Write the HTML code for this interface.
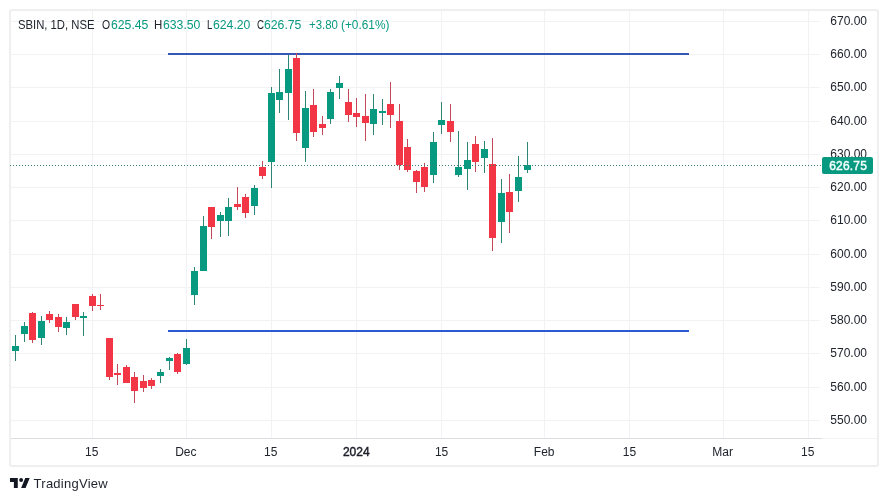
<!DOCTYPE html>
<html><head><meta charset="utf-8"><title>SBIN chart</title>
<style>
html,body{margin:0;padding:0;background:#fff;}
body{width:888px;height:501px;position:relative;overflow:hidden;font-family:"Liberation Sans",sans-serif;color:#20242d;}
#frame{position:absolute;left:9px;top:9px;width:870px;height:458px;border:2px solid #efeff0;border-radius:3px;box-sizing:border-box;}
svg{position:absolute;left:0;top:0;}
.lg{position:absolute;top:17px;font-size:12px;line-height:16px;white-space:nowrap;display:inline-block;transform-origin:0 50%;}
.lg.v{color:#089981;}
.pl{position:absolute;left:820.7px;width:56px;text-align:center;font-size:12px;line-height:16px;height:16px;}
.tl{position:absolute;top:444px;font-size:12px;line-height:16px;transform:translateX(-50%);white-space:nowrap;}
#cur{position:absolute;left:822px;top:157px;width:51px;height:17px;background:#089981;color:#f4fffd;font-weight:normal;-webkit-text-stroke:0.45px #f4fffd;font-size:12px;line-height:18.4px;text-align:center;border-radius:2px;letter-spacing:0.2px;text-indent:1.2px;}
#taxis{position:absolute;left:11px;top:438px;width:811px;height:1px;background:#dedee2;}
#logo{position:absolute;left:10px;top:478px;}
#brand{position:absolute;left:33.6px;top:475.8px;font-size:13px;line-height:16px;color:#1e222d;letter-spacing:0.25px;}
</style></head><body>
<div id="frame"></div>
<svg width="888" height="501" viewBox="0 0 888 501" shape-rendering="crispEdges">
<rect x="92" y="11" width="1" height="427" fill="#f2f2f4"/>
<rect x="186" y="11" width="1" height="427" fill="#f2f2f4"/>
<rect x="271" y="11" width="1" height="427" fill="#f2f2f4"/>
<rect x="356" y="11" width="1" height="427" fill="#f2f2f4"/>
<rect x="441" y="11" width="1" height="427" fill="#f2f2f4"/>
<rect x="544" y="11" width="1" height="427" fill="#f2f2f4"/>
<rect x="629" y="11" width="1" height="427" fill="#f2f2f4"/>
<rect x="723" y="11" width="1" height="427" fill="#f2f2f4"/>
<rect x="808" y="11" width="1" height="427" fill="#f2f2f4"/>
<rect x="11" y="21" width="809" height="1" fill="#f2f2f4"/>
<rect x="11" y="54" width="809" height="1" fill="#f2f2f4"/>
<rect x="11" y="87" width="809" height="1" fill="#f2f2f4"/>
<rect x="11" y="121" width="809" height="1" fill="#f2f2f4"/>
<rect x="11" y="154" width="809" height="1" fill="#f2f2f4"/>
<rect x="11" y="187" width="809" height="1" fill="#f2f2f4"/>
<rect x="11" y="220" width="809" height="1" fill="#f2f2f4"/>
<rect x="11" y="254" width="809" height="1" fill="#f2f2f4"/>
<rect x="11" y="287" width="809" height="1" fill="#f2f2f4"/>
<rect x="11" y="320" width="809" height="1" fill="#f2f2f4"/>
<rect x="11" y="353" width="809" height="1" fill="#f2f2f4"/>
<rect x="11" y="387" width="809" height="1" fill="#f2f2f4"/>
<rect x="11" y="420" width="809" height="1" fill="#f2f2f4"/>
<rect x="167.5" y="53" width="521.5" height="2" fill="#3558b2"/>
<rect x="167.5" y="330" width="521.5" height="2" fill="#2c5ad2"/>
<rect x="15" y="335" width="1" height="26" fill="#2d8576"/>
<rect x="12" y="346" width="7" height="5" fill="#089981"/>
<rect x="24" y="322" width="1" height="20" fill="#2d8576"/>
<rect x="21" y="326" width="7" height="8" fill="#089981"/>
<rect x="32" y="312" width="1" height="31" fill="#c2485a"/>
<rect x="29" y="313" width="7" height="27" fill="#f23645"/>
<rect x="41" y="316" width="1" height="29" fill="#2d8576"/>
<rect x="38" y="321" width="7" height="17" fill="#089981"/>
<rect x="49" y="311" width="1" height="12" fill="#c2485a"/>
<rect x="46" y="314" width="7" height="6" fill="#f23645"/>
<rect x="58" y="314" width="1" height="18" fill="#c2485a"/>
<rect x="55" y="317" width="7" height="10" fill="#f23645"/>
<rect x="66" y="317" width="1" height="18" fill="#2d8576"/>
<rect x="63" y="322" width="7" height="6" fill="#089981"/>
<rect x="75" y="304" width="1" height="16" fill="#c2485a"/>
<rect x="72" y="304" width="7" height="13" fill="#f23645"/>
<rect x="83" y="312" width="1" height="24" fill="#2d8576"/>
<rect x="80" y="316" width="7" height="2" fill="#089981"/>
<rect x="92" y="294" width="1" height="17" fill="#c2485a"/>
<rect x="89" y="296" width="7" height="10" fill="#f23645"/>
<rect x="100" y="294" width="1" height="16" fill="#c2485a"/>
<rect x="97" y="305" width="7" height="1" fill="#f23645"/>
<rect x="109" y="338" width="1" height="42" fill="#c2485a"/>
<rect x="106" y="338" width="7" height="39" fill="#f23645"/>
<rect x="117" y="364" width="1" height="21" fill="#c2485a"/>
<rect x="114" y="373" width="7" height="2" fill="#f23645"/>
<rect x="126" y="365" width="1" height="18" fill="#c2485a"/>
<rect x="123" y="367" width="7" height="16" fill="#f23645"/>
<rect x="134" y="372" width="1" height="31" fill="#c2485a"/>
<rect x="131" y="377" width="7" height="14" fill="#f23645"/>
<rect x="143" y="375" width="1" height="17" fill="#c2485a"/>
<rect x="140" y="381" width="7" height="7" fill="#f23645"/>
<rect x="151" y="378" width="1" height="11" fill="#c2485a"/>
<rect x="148" y="380" width="7" height="6" fill="#f23645"/>
<rect x="160" y="369" width="1" height="14" fill="#2d8576"/>
<rect x="157" y="372" width="7" height="4" fill="#089981"/>
<rect x="169" y="357" width="1" height="13" fill="#2d8576"/>
<rect x="166" y="358" width="7" height="3" fill="#089981"/>
<rect x="177" y="353" width="1" height="21" fill="#c2485a"/>
<rect x="174" y="354" width="7" height="18" fill="#f23645"/>
<rect x="186" y="339" width="1" height="26" fill="#2d8576"/>
<rect x="183" y="348" width="7" height="16" fill="#089981"/>
<rect x="194" y="267" width="1" height="38" fill="#2d8576"/>
<rect x="191" y="271" width="7" height="24" fill="#089981"/>
<rect x="203" y="216" width="1" height="55" fill="#2d8576"/>
<rect x="200" y="226" width="7" height="45" fill="#089981"/>
<rect x="211" y="207" width="1" height="32" fill="#c2485a"/>
<rect x="208" y="207" width="7" height="20" fill="#f23645"/>
<rect x="220" y="212" width="1" height="25" fill="#2d8576"/>
<rect x="217" y="215" width="7" height="6" fill="#089981"/>
<rect x="228" y="198" width="1" height="38" fill="#2d8576"/>
<rect x="225" y="207" width="7" height="14" fill="#089981"/>
<rect x="237" y="187" width="1" height="23" fill="#c2485a"/>
<rect x="234" y="204" width="7" height="3" fill="#f23645"/>
<rect x="245" y="194" width="1" height="24" fill="#c2485a"/>
<rect x="242" y="197" width="7" height="16" fill="#f23645"/>
<rect x="254" y="185" width="1" height="30" fill="#2d8576"/>
<rect x="251" y="188" width="7" height="18" fill="#089981"/>
<rect x="262" y="161" width="1" height="18" fill="#c2485a"/>
<rect x="259" y="167" width="7" height="9" fill="#f23645"/>
<rect x="271" y="87" width="1" height="101" fill="#2d8576"/>
<rect x="268" y="93" width="7" height="69" fill="#089981"/>
<rect x="279" y="69" width="1" height="44" fill="#2d8576"/>
<rect x="276" y="92" width="7" height="8" fill="#089981"/>
<rect x="288" y="55" width="1" height="65" fill="#2d8576"/>
<rect x="285" y="69" width="7" height="24" fill="#089981"/>
<rect x="296" y="53" width="1" height="88" fill="#c2485a"/>
<rect x="293" y="58" width="7" height="75" fill="#f23645"/>
<rect x="305" y="91" width="1" height="71" fill="#2d8576"/>
<rect x="302" y="108" width="7" height="40" fill="#089981"/>
<rect x="313" y="89" width="1" height="48" fill="#c2485a"/>
<rect x="310" y="105" width="7" height="27" fill="#f23645"/>
<rect x="322" y="116" width="1" height="19" fill="#c2485a"/>
<rect x="319" y="124" width="7" height="4" fill="#f23645"/>
<rect x="330" y="89" width="1" height="35" fill="#2d8576"/>
<rect x="327" y="92" width="7" height="27" fill="#089981"/>
<rect x="339" y="76" width="1" height="23" fill="#2d8576"/>
<rect x="336" y="83" width="7" height="5" fill="#089981"/>
<rect x="348" y="89" width="1" height="33" fill="#c2485a"/>
<rect x="345" y="102" width="7" height="13" fill="#f23645"/>
<rect x="356" y="98" width="1" height="29" fill="#c2485a"/>
<rect x="353" y="113" width="7" height="4" fill="#f23645"/>
<rect x="365" y="94" width="1" height="47" fill="#c2485a"/>
<rect x="362" y="116" width="7" height="7" fill="#f23645"/>
<rect x="373" y="94" width="1" height="41" fill="#2d8576"/>
<rect x="370" y="109" width="7" height="15" fill="#089981"/>
<rect x="382" y="99" width="1" height="26" fill="#2d8576"/>
<rect x="379" y="111" width="7" height="2" fill="#089981"/>
<rect x="390" y="82" width="1" height="46" fill="#c2485a"/>
<rect x="387" y="104" width="7" height="11" fill="#f23645"/>
<rect x="399" y="104" width="1" height="66" fill="#c2485a"/>
<rect x="396" y="121" width="7" height="44" fill="#f23645"/>
<rect x="407" y="139" width="1" height="33" fill="#c2485a"/>
<rect x="404" y="147" width="7" height="23" fill="#f23645"/>
<rect x="416" y="170" width="1" height="23" fill="#c2485a"/>
<rect x="413" y="171" width="7" height="11" fill="#f23645"/>
<rect x="424" y="163" width="1" height="29" fill="#c2485a"/>
<rect x="421" y="167" width="7" height="20" fill="#f23645"/>
<rect x="433" y="132" width="1" height="51" fill="#2d8576"/>
<rect x="430" y="142" width="7" height="33" fill="#089981"/>
<rect x="441" y="102" width="1" height="32" fill="#2d8576"/>
<rect x="438" y="120" width="7" height="5" fill="#089981"/>
<rect x="450" y="104" width="1" height="38" fill="#c2485a"/>
<rect x="447" y="121" width="7" height="11" fill="#f23645"/>
<rect x="458" y="131" width="1" height="46" fill="#2d8576"/>
<rect x="455" y="167" width="7" height="8" fill="#089981"/>
<rect x="467" y="142" width="1" height="48" fill="#2d8576"/>
<rect x="464" y="160" width="7" height="9" fill="#089981"/>
<rect x="475" y="136" width="1" height="36" fill="#c2485a"/>
<rect x="472" y="144" width="7" height="18" fill="#f23645"/>
<rect x="484" y="141" width="1" height="32" fill="#2d8576"/>
<rect x="481" y="149" width="7" height="9" fill="#089981"/>
<rect x="492" y="138" width="1" height="113" fill="#c2485a"/>
<rect x="489" y="164" width="7" height="74" fill="#f23645"/>
<rect x="501" y="179" width="1" height="64" fill="#2d8576"/>
<rect x="498" y="193" width="7" height="29" fill="#089981"/>
<rect x="509" y="174" width="1" height="59" fill="#c2485a"/>
<rect x="506" y="192" width="7" height="20" fill="#f23645"/>
<rect x="518" y="156" width="1" height="46" fill="#2d8576"/>
<rect x="515" y="177" width="7" height="14" fill="#089981"/>
<rect x="527" y="142" width="1" height="31" fill="#2d8576"/>
<rect x="524" y="165" width="7" height="5" fill="#089981"/>
<rect x="10" y="165" width="1" height="1" fill="#3c8073"/>
<rect x="13" y="165" width="1" height="1" fill="#3c8073"/>
<rect x="16" y="165" width="1" height="1" fill="#3c8073"/>
<rect x="19" y="165" width="1" height="1" fill="#3c8073"/>
<rect x="22" y="165" width="1" height="1" fill="#3c8073"/>
<rect x="25" y="165" width="1" height="1" fill="#3c8073"/>
<rect x="28" y="165" width="1" height="1" fill="#3c8073"/>
<rect x="31" y="165" width="1" height="1" fill="#3c8073"/>
<rect x="34" y="165" width="1" height="1" fill="#3c8073"/>
<rect x="37" y="165" width="1" height="1" fill="#3c8073"/>
<rect x="40" y="165" width="1" height="1" fill="#3c8073"/>
<rect x="43" y="165" width="1" height="1" fill="#3c8073"/>
<rect x="46" y="165" width="1" height="1" fill="#3c8073"/>
<rect x="49" y="165" width="1" height="1" fill="#3c8073"/>
<rect x="52" y="165" width="1" height="1" fill="#3c8073"/>
<rect x="55" y="165" width="1" height="1" fill="#3c8073"/>
<rect x="58" y="165" width="1" height="1" fill="#3c8073"/>
<rect x="61" y="165" width="1" height="1" fill="#3c8073"/>
<rect x="64" y="165" width="1" height="1" fill="#3c8073"/>
<rect x="67" y="165" width="1" height="1" fill="#3c8073"/>
<rect x="70" y="165" width="1" height="1" fill="#3c8073"/>
<rect x="73" y="165" width="1" height="1" fill="#3c8073"/>
<rect x="76" y="165" width="1" height="1" fill="#3c8073"/>
<rect x="79" y="165" width="1" height="1" fill="#3c8073"/>
<rect x="82" y="165" width="1" height="1" fill="#3c8073"/>
<rect x="85" y="165" width="1" height="1" fill="#3c8073"/>
<rect x="88" y="165" width="1" height="1" fill="#3c8073"/>
<rect x="91" y="165" width="1" height="1" fill="#3c8073"/>
<rect x="94" y="165" width="1" height="1" fill="#3c8073"/>
<rect x="97" y="165" width="1" height="1" fill="#3c8073"/>
<rect x="100" y="165" width="1" height="1" fill="#3c8073"/>
<rect x="103" y="165" width="1" height="1" fill="#3c8073"/>
<rect x="106" y="165" width="1" height="1" fill="#3c8073"/>
<rect x="109" y="165" width="1" height="1" fill="#3c8073"/>
<rect x="112" y="165" width="1" height="1" fill="#3c8073"/>
<rect x="115" y="165" width="1" height="1" fill="#3c8073"/>
<rect x="118" y="165" width="1" height="1" fill="#3c8073"/>
<rect x="121" y="165" width="1" height="1" fill="#3c8073"/>
<rect x="124" y="165" width="1" height="1" fill="#3c8073"/>
<rect x="127" y="165" width="1" height="1" fill="#3c8073"/>
<rect x="130" y="165" width="1" height="1" fill="#3c8073"/>
<rect x="133" y="165" width="1" height="1" fill="#3c8073"/>
<rect x="136" y="165" width="1" height="1" fill="#3c8073"/>
<rect x="139" y="165" width="1" height="1" fill="#3c8073"/>
<rect x="142" y="165" width="1" height="1" fill="#3c8073"/>
<rect x="145" y="165" width="1" height="1" fill="#3c8073"/>
<rect x="148" y="165" width="1" height="1" fill="#3c8073"/>
<rect x="151" y="165" width="1" height="1" fill="#3c8073"/>
<rect x="154" y="165" width="1" height="1" fill="#3c8073"/>
<rect x="157" y="165" width="1" height="1" fill="#3c8073"/>
<rect x="160" y="165" width="1" height="1" fill="#3c8073"/>
<rect x="163" y="165" width="1" height="1" fill="#3c8073"/>
<rect x="166" y="165" width="1" height="1" fill="#3c8073"/>
<rect x="169" y="165" width="1" height="1" fill="#3c8073"/>
<rect x="172" y="165" width="1" height="1" fill="#3c8073"/>
<rect x="175" y="165" width="1" height="1" fill="#3c8073"/>
<rect x="178" y="165" width="1" height="1" fill="#3c8073"/>
<rect x="181" y="165" width="1" height="1" fill="#3c8073"/>
<rect x="184" y="165" width="1" height="1" fill="#3c8073"/>
<rect x="187" y="165" width="1" height="1" fill="#3c8073"/>
<rect x="190" y="165" width="1" height="1" fill="#3c8073"/>
<rect x="193" y="165" width="1" height="1" fill="#3c8073"/>
<rect x="196" y="165" width="1" height="1" fill="#3c8073"/>
<rect x="199" y="165" width="1" height="1" fill="#3c8073"/>
<rect x="202" y="165" width="1" height="1" fill="#3c8073"/>
<rect x="205" y="165" width="1" height="1" fill="#3c8073"/>
<rect x="208" y="165" width="1" height="1" fill="#3c8073"/>
<rect x="211" y="165" width="1" height="1" fill="#3c8073"/>
<rect x="214" y="165" width="1" height="1" fill="#3c8073"/>
<rect x="217" y="165" width="1" height="1" fill="#3c8073"/>
<rect x="220" y="165" width="1" height="1" fill="#3c8073"/>
<rect x="223" y="165" width="1" height="1" fill="#3c8073"/>
<rect x="226" y="165" width="1" height="1" fill="#3c8073"/>
<rect x="229" y="165" width="1" height="1" fill="#3c8073"/>
<rect x="232" y="165" width="1" height="1" fill="#3c8073"/>
<rect x="235" y="165" width="1" height="1" fill="#3c8073"/>
<rect x="238" y="165" width="1" height="1" fill="#3c8073"/>
<rect x="241" y="165" width="1" height="1" fill="#3c8073"/>
<rect x="244" y="165" width="1" height="1" fill="#3c8073"/>
<rect x="247" y="165" width="1" height="1" fill="#3c8073"/>
<rect x="250" y="165" width="1" height="1" fill="#3c8073"/>
<rect x="253" y="165" width="1" height="1" fill="#3c8073"/>
<rect x="256" y="165" width="1" height="1" fill="#3c8073"/>
<rect x="259" y="165" width="1" height="1" fill="#3c8073"/>
<rect x="262" y="165" width="1" height="1" fill="#3c8073"/>
<rect x="265" y="165" width="1" height="1" fill="#3c8073"/>
<rect x="268" y="165" width="1" height="1" fill="#3c8073"/>
<rect x="271" y="165" width="1" height="1" fill="#3c8073"/>
<rect x="274" y="165" width="1" height="1" fill="#3c8073"/>
<rect x="277" y="165" width="1" height="1" fill="#3c8073"/>
<rect x="280" y="165" width="1" height="1" fill="#3c8073"/>
<rect x="283" y="165" width="1" height="1" fill="#3c8073"/>
<rect x="286" y="165" width="1" height="1" fill="#3c8073"/>
<rect x="289" y="165" width="1" height="1" fill="#3c8073"/>
<rect x="292" y="165" width="1" height="1" fill="#3c8073"/>
<rect x="295" y="165" width="1" height="1" fill="#3c8073"/>
<rect x="298" y="165" width="1" height="1" fill="#3c8073"/>
<rect x="301" y="165" width="1" height="1" fill="#3c8073"/>
<rect x="304" y="165" width="1" height="1" fill="#3c8073"/>
<rect x="307" y="165" width="1" height="1" fill="#3c8073"/>
<rect x="310" y="165" width="1" height="1" fill="#3c8073"/>
<rect x="313" y="165" width="1" height="1" fill="#3c8073"/>
<rect x="316" y="165" width="1" height="1" fill="#3c8073"/>
<rect x="319" y="165" width="1" height="1" fill="#3c8073"/>
<rect x="322" y="165" width="1" height="1" fill="#3c8073"/>
<rect x="325" y="165" width="1" height="1" fill="#3c8073"/>
<rect x="328" y="165" width="1" height="1" fill="#3c8073"/>
<rect x="331" y="165" width="1" height="1" fill="#3c8073"/>
<rect x="334" y="165" width="1" height="1" fill="#3c8073"/>
<rect x="337" y="165" width="1" height="1" fill="#3c8073"/>
<rect x="340" y="165" width="1" height="1" fill="#3c8073"/>
<rect x="343" y="165" width="1" height="1" fill="#3c8073"/>
<rect x="346" y="165" width="1" height="1" fill="#3c8073"/>
<rect x="349" y="165" width="1" height="1" fill="#3c8073"/>
<rect x="352" y="165" width="1" height="1" fill="#3c8073"/>
<rect x="355" y="165" width="1" height="1" fill="#3c8073"/>
<rect x="358" y="165" width="1" height="1" fill="#3c8073"/>
<rect x="361" y="165" width="1" height="1" fill="#3c8073"/>
<rect x="364" y="165" width="1" height="1" fill="#3c8073"/>
<rect x="367" y="165" width="1" height="1" fill="#3c8073"/>
<rect x="370" y="165" width="1" height="1" fill="#3c8073"/>
<rect x="373" y="165" width="1" height="1" fill="#3c8073"/>
<rect x="376" y="165" width="1" height="1" fill="#3c8073"/>
<rect x="379" y="165" width="1" height="1" fill="#3c8073"/>
<rect x="382" y="165" width="1" height="1" fill="#3c8073"/>
<rect x="385" y="165" width="1" height="1" fill="#3c8073"/>
<rect x="388" y="165" width="1" height="1" fill="#3c8073"/>
<rect x="391" y="165" width="1" height="1" fill="#3c8073"/>
<rect x="394" y="165" width="1" height="1" fill="#3c8073"/>
<rect x="397" y="165" width="1" height="1" fill="#3c8073"/>
<rect x="400" y="165" width="1" height="1" fill="#3c8073"/>
<rect x="403" y="165" width="1" height="1" fill="#3c8073"/>
<rect x="406" y="165" width="1" height="1" fill="#3c8073"/>
<rect x="409" y="165" width="1" height="1" fill="#3c8073"/>
<rect x="412" y="165" width="1" height="1" fill="#3c8073"/>
<rect x="415" y="165" width="1" height="1" fill="#3c8073"/>
<rect x="418" y="165" width="1" height="1" fill="#3c8073"/>
<rect x="421" y="165" width="1" height="1" fill="#3c8073"/>
<rect x="424" y="165" width="1" height="1" fill="#3c8073"/>
<rect x="427" y="165" width="1" height="1" fill="#3c8073"/>
<rect x="430" y="165" width="1" height="1" fill="#3c8073"/>
<rect x="433" y="165" width="1" height="1" fill="#3c8073"/>
<rect x="436" y="165" width="1" height="1" fill="#3c8073"/>
<rect x="439" y="165" width="1" height="1" fill="#3c8073"/>
<rect x="442" y="165" width="1" height="1" fill="#3c8073"/>
<rect x="445" y="165" width="1" height="1" fill="#3c8073"/>
<rect x="448" y="165" width="1" height="1" fill="#3c8073"/>
<rect x="451" y="165" width="1" height="1" fill="#3c8073"/>
<rect x="454" y="165" width="1" height="1" fill="#3c8073"/>
<rect x="457" y="165" width="1" height="1" fill="#3c8073"/>
<rect x="460" y="165" width="1" height="1" fill="#3c8073"/>
<rect x="463" y="165" width="1" height="1" fill="#3c8073"/>
<rect x="466" y="165" width="1" height="1" fill="#3c8073"/>
<rect x="469" y="165" width="1" height="1" fill="#3c8073"/>
<rect x="472" y="165" width="1" height="1" fill="#3c8073"/>
<rect x="475" y="165" width="1" height="1" fill="#3c8073"/>
<rect x="478" y="165" width="1" height="1" fill="#3c8073"/>
<rect x="481" y="165" width="1" height="1" fill="#3c8073"/>
<rect x="484" y="165" width="1" height="1" fill="#3c8073"/>
<rect x="487" y="165" width="1" height="1" fill="#3c8073"/>
<rect x="490" y="165" width="1" height="1" fill="#3c8073"/>
<rect x="493" y="165" width="1" height="1" fill="#3c8073"/>
<rect x="496" y="165" width="1" height="1" fill="#3c8073"/>
<rect x="499" y="165" width="1" height="1" fill="#3c8073"/>
<rect x="502" y="165" width="1" height="1" fill="#3c8073"/>
<rect x="505" y="165" width="1" height="1" fill="#3c8073"/>
<rect x="508" y="165" width="1" height="1" fill="#3c8073"/>
<rect x="511" y="165" width="1" height="1" fill="#3c8073"/>
<rect x="514" y="165" width="1" height="1" fill="#3c8073"/>
<rect x="517" y="165" width="1" height="1" fill="#3c8073"/>
<rect x="520" y="165" width="1" height="1" fill="#3c8073"/>
<rect x="523" y="165" width="1" height="1" fill="#3c8073"/>
<rect x="526" y="165" width="1" height="1" fill="#3c8073"/>
<rect x="529" y="165" width="1" height="1" fill="#3c8073"/>
<rect x="532" y="165" width="1" height="1" fill="#3c8073"/>
<rect x="535" y="165" width="1" height="1" fill="#3c8073"/>
<rect x="538" y="165" width="1" height="1" fill="#3c8073"/>
<rect x="541" y="165" width="1" height="1" fill="#3c8073"/>
<rect x="544" y="165" width="1" height="1" fill="#3c8073"/>
<rect x="547" y="165" width="1" height="1" fill="#3c8073"/>
<rect x="550" y="165" width="1" height="1" fill="#3c8073"/>
<rect x="553" y="165" width="1" height="1" fill="#3c8073"/>
<rect x="556" y="165" width="1" height="1" fill="#3c8073"/>
<rect x="559" y="165" width="1" height="1" fill="#3c8073"/>
<rect x="562" y="165" width="1" height="1" fill="#3c8073"/>
<rect x="565" y="165" width="1" height="1" fill="#3c8073"/>
<rect x="568" y="165" width="1" height="1" fill="#3c8073"/>
<rect x="571" y="165" width="1" height="1" fill="#3c8073"/>
<rect x="574" y="165" width="1" height="1" fill="#3c8073"/>
<rect x="577" y="165" width="1" height="1" fill="#3c8073"/>
<rect x="580" y="165" width="1" height="1" fill="#3c8073"/>
<rect x="583" y="165" width="1" height="1" fill="#3c8073"/>
<rect x="586" y="165" width="1" height="1" fill="#3c8073"/>
<rect x="589" y="165" width="1" height="1" fill="#3c8073"/>
<rect x="592" y="165" width="1" height="1" fill="#3c8073"/>
<rect x="595" y="165" width="1" height="1" fill="#3c8073"/>
<rect x="598" y="165" width="1" height="1" fill="#3c8073"/>
<rect x="601" y="165" width="1" height="1" fill="#3c8073"/>
<rect x="604" y="165" width="1" height="1" fill="#3c8073"/>
<rect x="607" y="165" width="1" height="1" fill="#3c8073"/>
<rect x="610" y="165" width="1" height="1" fill="#3c8073"/>
<rect x="613" y="165" width="1" height="1" fill="#3c8073"/>
<rect x="616" y="165" width="1" height="1" fill="#3c8073"/>
<rect x="619" y="165" width="1" height="1" fill="#3c8073"/>
<rect x="622" y="165" width="1" height="1" fill="#3c8073"/>
<rect x="625" y="165" width="1" height="1" fill="#3c8073"/>
<rect x="628" y="165" width="1" height="1" fill="#3c8073"/>
<rect x="631" y="165" width="1" height="1" fill="#3c8073"/>
<rect x="634" y="165" width="1" height="1" fill="#3c8073"/>
<rect x="637" y="165" width="1" height="1" fill="#3c8073"/>
<rect x="640" y="165" width="1" height="1" fill="#3c8073"/>
<rect x="643" y="165" width="1" height="1" fill="#3c8073"/>
<rect x="646" y="165" width="1" height="1" fill="#3c8073"/>
<rect x="649" y="165" width="1" height="1" fill="#3c8073"/>
<rect x="652" y="165" width="1" height="1" fill="#3c8073"/>
<rect x="655" y="165" width="1" height="1" fill="#3c8073"/>
<rect x="658" y="165" width="1" height="1" fill="#3c8073"/>
<rect x="661" y="165" width="1" height="1" fill="#3c8073"/>
<rect x="664" y="165" width="1" height="1" fill="#3c8073"/>
<rect x="667" y="165" width="1" height="1" fill="#3c8073"/>
<rect x="670" y="165" width="1" height="1" fill="#3c8073"/>
<rect x="673" y="165" width="1" height="1" fill="#3c8073"/>
<rect x="676" y="165" width="1" height="1" fill="#3c8073"/>
<rect x="679" y="165" width="1" height="1" fill="#3c8073"/>
<rect x="682" y="165" width="1" height="1" fill="#3c8073"/>
<rect x="685" y="165" width="1" height="1" fill="#3c8073"/>
<rect x="688" y="165" width="1" height="1" fill="#3c8073"/>
<rect x="691" y="165" width="1" height="1" fill="#3c8073"/>
<rect x="694" y="165" width="1" height="1" fill="#3c8073"/>
<rect x="697" y="165" width="1" height="1" fill="#3c8073"/>
<rect x="700" y="165" width="1" height="1" fill="#3c8073"/>
<rect x="703" y="165" width="1" height="1" fill="#3c8073"/>
<rect x="706" y="165" width="1" height="1" fill="#3c8073"/>
<rect x="709" y="165" width="1" height="1" fill="#3c8073"/>
<rect x="712" y="165" width="1" height="1" fill="#3c8073"/>
<rect x="715" y="165" width="1" height="1" fill="#3c8073"/>
<rect x="718" y="165" width="1" height="1" fill="#3c8073"/>
<rect x="721" y="165" width="1" height="1" fill="#3c8073"/>
<rect x="724" y="165" width="1" height="1" fill="#3c8073"/>
<rect x="727" y="165" width="1" height="1" fill="#3c8073"/>
<rect x="730" y="165" width="1" height="1" fill="#3c8073"/>
<rect x="733" y="165" width="1" height="1" fill="#3c8073"/>
<rect x="736" y="165" width="1" height="1" fill="#3c8073"/>
<rect x="739" y="165" width="1" height="1" fill="#3c8073"/>
<rect x="742" y="165" width="1" height="1" fill="#3c8073"/>
<rect x="745" y="165" width="1" height="1" fill="#3c8073"/>
<rect x="748" y="165" width="1" height="1" fill="#3c8073"/>
<rect x="751" y="165" width="1" height="1" fill="#3c8073"/>
<rect x="754" y="165" width="1" height="1" fill="#3c8073"/>
<rect x="757" y="165" width="1" height="1" fill="#3c8073"/>
<rect x="760" y="165" width="1" height="1" fill="#3c8073"/>
<rect x="763" y="165" width="1" height="1" fill="#3c8073"/>
<rect x="766" y="165" width="1" height="1" fill="#3c8073"/>
<rect x="769" y="165" width="1" height="1" fill="#3c8073"/>
<rect x="772" y="165" width="1" height="1" fill="#3c8073"/>
<rect x="775" y="165" width="1" height="1" fill="#3c8073"/>
<rect x="778" y="165" width="1" height="1" fill="#3c8073"/>
<rect x="781" y="165" width="1" height="1" fill="#3c8073"/>
<rect x="784" y="165" width="1" height="1" fill="#3c8073"/>
<rect x="787" y="165" width="1" height="1" fill="#3c8073"/>
<rect x="790" y="165" width="1" height="1" fill="#3c8073"/>
<rect x="793" y="165" width="1" height="1" fill="#3c8073"/>
<rect x="796" y="165" width="1" height="1" fill="#3c8073"/>
<rect x="799" y="165" width="1" height="1" fill="#3c8073"/>
<rect x="802" y="165" width="1" height="1" fill="#3c8073"/>
<rect x="805" y="165" width="1" height="1" fill="#3c8073"/>
<rect x="808" y="165" width="1" height="1" fill="#3c8073"/>
<rect x="811" y="165" width="1" height="1" fill="#3c8073"/>
<rect x="814" y="165" width="1" height="1" fill="#3c8073"/>
<rect x="817" y="165" width="1" height="1" fill="#3c8073"/>
<rect x="820" y="165" width="1" height="1" fill="#3c8073"/>
</svg>
<div id="taxis"></div><div style="position:absolute;left:822px;top:438px;width:55px;height:1px;background:#f4f4f6"></div>
<span class="lg" style="left:17.66px;transform:scaleX(0.940)">SBIN, 1D, NSE</span>
<span class="lg" style="left:101.90px;transform:scaleX(0.867)">O</span>
<span class="lg v" style="left:110.60px;transform:scaleX(1.019)">625.45</span>
<span class="lg" style="left:154.34px;transform:scaleX(0.957)">H</span>
<span class="lg v" style="left:163.20px;transform:scaleX(1.019)">633.50</span>
<span class="lg" style="left:207.10px;transform:scaleX(0.800)">L</span>
<span class="lg v" style="left:213.10px;transform:scaleX(1.019)">624.20</span>
<span class="lg" style="left:257.40px;transform:scaleX(0.812)">C</span>
<span class="lg v" style="left:264.20px;transform:scaleX(1.019)">626.75</span>
<span class="lg v" style="left:308.80px;transform:scaleX(0.953)">+3.80</span>
<span class="lg v" style="left:341.31px;transform:scaleX(0.987)">(+0.61%)</span>

<div class="pl" style="top:12.50px">670.00</div>
<div class="pl" style="top:46.20px">660.00</div>
<div class="pl" style="top:79.20px">650.00</div>
<div class="pl" style="top:113.20px">640.00</div>
<div class="pl" style="top:146.20px">630.00</div>
<div class="pl" style="top:179.20px">620.00</div>
<div class="pl" style="top:212.20px">610.00</div>
<div class="pl" style="top:246.20px">600.00</div>
<div class="pl" style="top:279.20px">590.00</div>
<div class="pl" style="top:312.20px">580.00</div>
<div class="pl" style="top:345.20px">570.00</div>
<div class="pl" style="top:379.20px">560.00</div>
<div class="pl" style="top:411.50px">550.00</div>

<div id="cur">626.75</div>
<div class="tl" style="left:91.8px">15</div>
<div class="tl" style="left:185.8px">Dec</div>
<div class="tl" style="left:270.8px">15</div>
<div class="tl" style="left:356.3px;-webkit-text-stroke:0.4px #131722">2024</div>
<div class="tl" style="left:441.6px">15</div>
<div class="tl" style="left:544.2px">Feb</div>
<div class="tl" style="left:629.5px">15</div>
<div class="tl" style="left:722.7px">Mar</div>
<div class="tl" style="left:807.8px">15</div>

<svg id="logo" width="20" height="10" viewBox="0 0 36 18" style="left:10px;top:478px"><path fill="#131722" d="M14 18H7V7H0V0h14v18zM28 18h-8l7.5-18h8L28 18z"/><circle cx="20" cy="3.5" r="3.5" fill="#131722"/></svg>
<div id="brand">TradingView</div>
</body></html>
